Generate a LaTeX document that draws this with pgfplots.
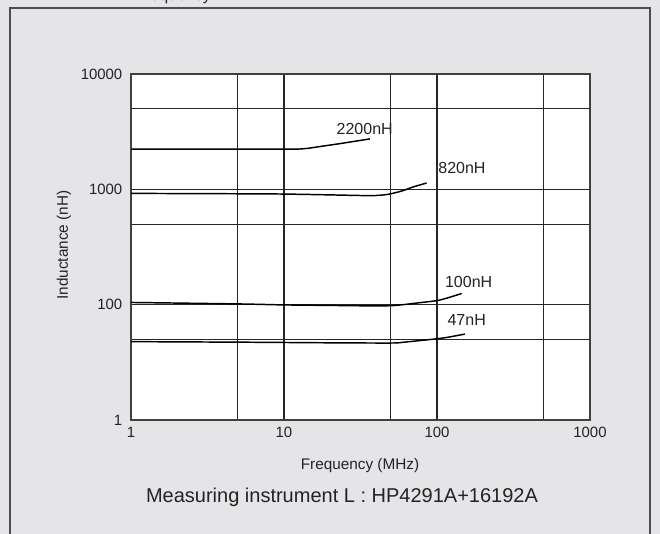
\documentclass[border=0pt]{standalone}
\usepackage{fontspec}
\setmainfont{Liberation Sans}
\usepackage{pgfplots}
\pgfplotsset{compat=1.18}
\definecolor{bg}{RGB}{229,229,232}
\definecolor{txt}{RGB}{35,35,35}
\begin{document}
\begin{tikzpicture}[x=0.75pt,y=-0.75pt]
\useasboundingbox (0,0) rectangle (660,534);
\clip (0,0) rectangle (660,534);
\fill[bg] (0,0) rectangle (660,534);
\draw[black!70, line width=1pt] (10,8) rectangle (650,560);
\node[anchor=base west, inner sep=0pt, font=\fontsize{12}{14}\selectfont, text=txt] at (135,0.5) {Frequency};
\begin{axis}[
  at={(98.25pt,-315pt)}, anchor=south west,
  scale only axis, width=344.25pt, height=259.5pt,
  xmode=log, ymode=log, xmin=1, xmax=1000, ymin=10, ymax=10000,
  xtick={1,10,100,1000}, xticklabels={1,10,100,1000},
  ytick={10,100,1000,10000}, yticklabels={1,100,1000,10000},
  minor xtick={5,50,500}, minor ytick={50,500,5000},
  grid=both,
  major grid style={black!85, line width=0.8pt},
  minor grid style={black!85, line width=0.8pt},
  axis line style={black!75, line width=0.9pt},
  major tick length=0pt, minor tick length=0pt,
  axis background/.style={fill=white},
  tick label style={font=\fontsize{11.2}{13}\selectfont, text=txt},
  xticklabel style={yshift=-2pt},
  yticklabel style={xshift=-3pt},
  clip=false,
]
\addplot[black, line width=1.1pt, smooth] coordinates {
 (1,2228) (5,2228) (10,2228) (12,2230) (14,2260) (17.2,2350) (20,2420) (23.2,2490) (28,2590) (36.5,2737)};
\addplot[black, line width=1.1pt, smooth] coordinates {
 (1,922) (5,915) (10,910) (20,895) (30,885) (38,882) (45,895) (50,915) (60,975) (70,1050) (78,1095) (85.6,1135)};
\addplot[black, line width=1.1pt, smooth] coordinates {
 (1,104.5) (5,101.5) (10,99.5) (20,98.5) (40,97.5) (50,98) (60,100) (77,104) (100,108.5) (120,115.5) (145,125)};
\addplot[black, line width=1.1pt, smooth] coordinates {
 (1,47.8) (5,47.3) (10,47) (20,46.7) (50,46.5) (60,47.2) (77,48.8) (100,50.6) (120,52.4) (152,55.6)};
\node[font=\fontsize{12}{14}\selectfont, text=txt] at (axis cs:33.7,3357) {2200nH};
\node[font=\fontsize{12}{14}\selectfont, text=txt] at (axis cs:145.6,1524) {820nH};
\node[font=\fontsize{12}{14}\selectfont, text=txt] at (axis cs:161,158.5) {100nH};
\node[font=\fontsize{12}{14}\selectfont, text=txt] at (axis cs:156.4,73.3) {47nH};
\end{axis}
\node[rotate=90, font=\fontsize{11.5}{13}\selectfont, text=txt] at (64,245) {Inductance (nH)};
\node[font=\fontsize{11.5}{13}\selectfont, text=txt] at (360,466) {Frequency (MHz)};
\node[font=\fontsize{15}{18}\selectfont, text=txt] at (342,497) {Measuring instrument L : HP4291A+16192A};
\end{tikzpicture}
\end{document}
